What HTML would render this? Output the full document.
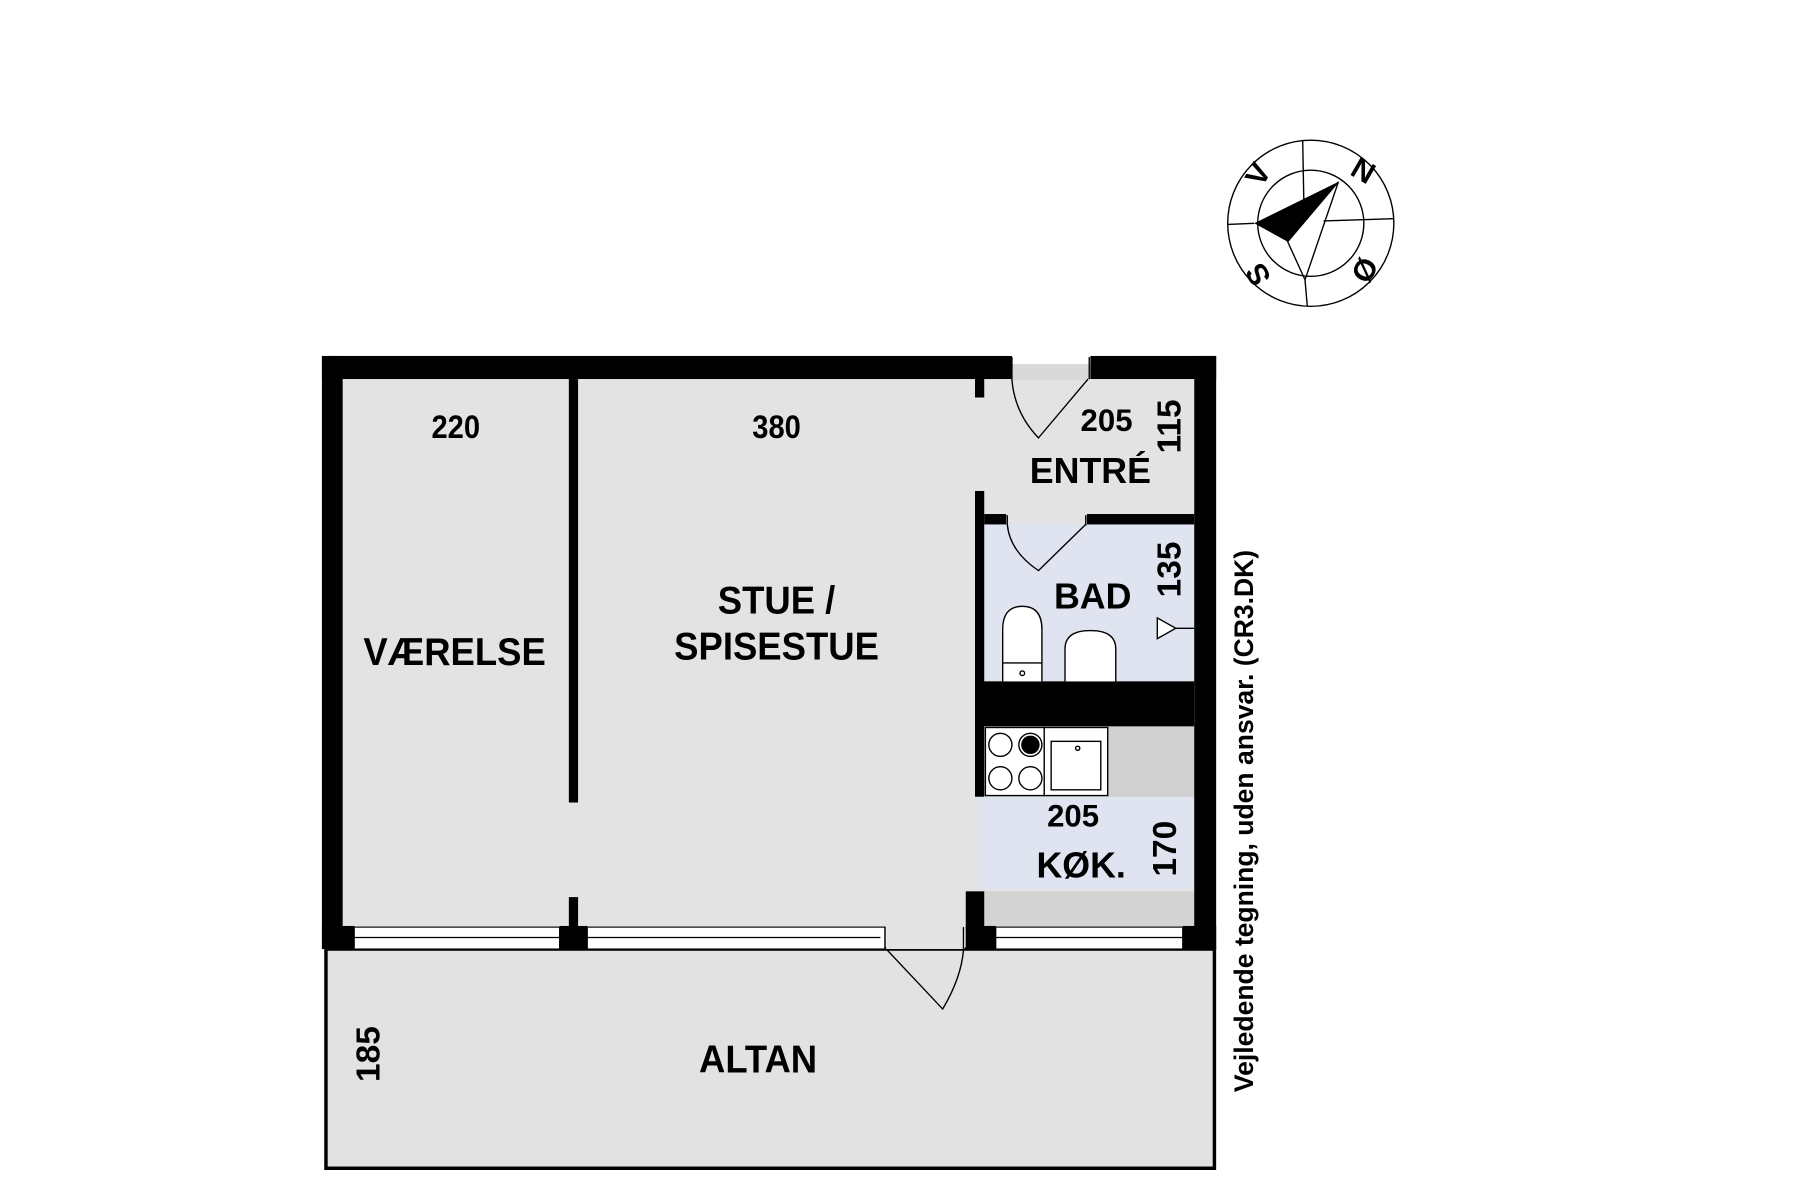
<!DOCTYPE html>
<html><head><meta charset="utf-8"><style>
html,body{margin:0;padding:0;background:#fff;}
svg{display:block;}
text{font-family:"Liberation Sans",sans-serif;font-weight:bold;fill:#000;}
</style></head><body>
<svg width="1800" height="1200" viewBox="0 0 1560 1040" xmlns="http://www.w3.org/2000/svg">
<g transform="translate(-3 -2.5)">
<rect x="300" y="331" width="738" height="477" fill="#e3e3e3"/>
<rect x="880" y="318" width="68" height="14" fill="#d9d9d9"/>
<rect x="856" y="457" width="182" height="136" fill="#dfe4f0"/>
<rect x="850" y="693" width="188" height="80" fill="#dfe4f0"/>
<rect x="856" y="775" width="182" height="30" fill="#d3d3d3"/>
<rect x="963" y="632" width="75" height="61" fill="#d0d0d0"/>
<rect x="285.5" y="825" width="770" height="190" fill="#e2e2e2" stroke="#000" stroke-width="3"/>
<rect x="282" y="311" width="598" height="20" fill="#000"/>
<rect x="948" y="311" width="109" height="20" fill="#000"/>
<rect x="282" y="311" width="18" height="514" fill="#000"/>
<rect x="1038" y="311" width="19" height="514" fill="#000"/>
<rect x="496" y="331" width="8" height="367" fill="#000"/>
<rect x="496" y="780" width="8" height="28" fill="#000"/>
<rect x="848" y="331" width="8" height="16" fill="#000"/>
<rect x="848" y="428" width="8" height="265" fill="#000"/>
<rect x="840" y="775" width="16" height="50" fill="#000"/>
<rect x="856" y="448" width="19" height="9" fill="#000"/>
<rect x="945" y="448" width="93" height="9" fill="#000"/>
<rect x="848" y="593" width="190" height="39" fill="#000"/>
<rect x="282" y="805" width="28" height="20" fill="#000"/>
<rect x="488" y="805" width="24" height="20" fill="#000"/>
<rect x="840" y="805" width="26" height="20" fill="#000"/>
<rect x="1028" y="805" width="29" height="20" fill="#000"/>
<g fill="#fff" stroke="#000" stroke-width="1">
<rect x="310" y="806" width="178" height="19"/><line x1="310" y1="815" x2="488" y2="815"/>
<rect x="512" y="806" width="258" height="19"/><line x1="512" y1="815" x2="766" y2="815"/>
<rect x="866" y="806" width="162" height="19"/><line x1="866" y1="815" x2="1028" y2="815"/>
</g>
<rect x="771" y="806" width="68" height="19" fill="#e3e3e3"/>
<g fill="none" stroke="#000" stroke-width="1.2">
<line x1="770" y1="806" x2="770" y2="826"/>
<line x1="838" y1="806" x2="838" y2="826"/>
<path d="M772 826 L820 877 Q836 850 838 826"/>
<line x1="880" y1="312" x2="880" y2="331"/><line x1="947" y1="312" x2="947" y2="331"/>
<path d="M946 331 L903 382 Q882 360 880 331"/>
<line x1="876" y1="449" x2="876" y2="458"/><line x1="944" y1="449" x2="944" y2="458"/>
<path d="M944 457 L903 497 Q878 480 876 457"/>
<path d="M872 593 L872 548 Q872 528 889 528 Q906 528 906 548 L906 593" fill="#fff"/>
<line x1="872" y1="577" x2="906" y2="577"/>
<circle cx="889" cy="586" r="2"/>
<path d="M926 593 L926 565 Q926 549 948 549 Q970 549 970 565 L970 593" fill="#fff"/>
<path d="M1006 538 L1006 556 L1022 547 Z" fill="#fff"/><line x1="1022" y1="547" x2="1038" y2="547"/>
<rect x="857" y="633" width="51" height="59" fill="#fff"/>
<circle cx="870" cy="648" r="10"/><circle cx="870" cy="677" r="10"/><circle cx="896" cy="677" r="10"/>
<circle cx="896" cy="648" r="10"/>
<rect x="908" y="633" width="55" height="59" fill="#fff"/>
<rect x="914" y="645" width="43" height="42"/>
<circle cx="937" cy="651" r="1.8"/>
</g>
<circle cx="896" cy="648" r="8" fill="#000"/>
<g text-anchor="middle">
<text x="398" y="382" font-size="28" transform="translate(398 0) scale(0.9 1) translate(-398 0)">220</text>
<text x="676" y="382" font-size="28" transform="translate(676 0) scale(0.9 1) translate(-676 0)">380</text>
<text x="397" y="579" font-size="34" transform="translate(397 0) scale(0.93 1) translate(-397 0)">VÆRELSE</text>
<text x="676" y="534" font-size="34" transform="translate(676 0) scale(0.93 1) translate(-676 0)">STUE /</text>
<text x="676" y="574" font-size="34" transform="translate(676 0) scale(0.93 1) translate(-676 0)">SPISESTUE</text>
<text x="962" y="376" font-size="27">205</text>
<text x="948" y="421" font-size="31">ENTRÉ</text>
<text x="950" y="530" font-size="31">BAD</text>
<text x="933" y="719" font-size="27">205</text>
<text x="940" y="763" font-size="31">KØK.</text>
<text x="660" y="932" font-size="34" transform="translate(660 0) scale(0.93 1) translate(-660 0)">ALTAN</text>
<text transform="translate(1026 372) rotate(-90)" font-size="29">115</text>
<text transform="translate(1026 496) rotate(-90)" font-size="29">135</text>
<text transform="translate(1022 738) rotate(-90)" font-size="29">170</text>
<text transform="translate(332 916) rotate(-90)" font-size="29">185</text>
<text transform="translate(1089 714) rotate(-90)" font-size="23">Vejledende tegning, uden ansvar. (CR3.DK)</text>
</g>
<g fill="none" stroke="#000" stroke-width="1.2">
<circle cx="1139" cy="196" r="72"/>
<circle cx="1139" cy="196" r="46"/>
<line x1="1132" y1="124" x2="1133" y2="178"/>
<line x1="1134" y1="245" x2="1136" y2="268"/>
<line x1="1067" y1="197" x2="1090" y2="196"/>
<line x1="1150" y1="194" x2="1211" y2="192"/>
<path d="M1163 160 L1119 212 L1134 245 Z"/>
</g>
<path d="M1163 160 L1090 196 L1119 212 Z" fill="#000"/>
<g font-size="26" text-anchor="middle">
<text transform="translate(1101 158) rotate(-60)">V</text>
<text transform="translate(1180 158) rotate(30)">N</text>
<text transform="translate(1101 236) rotate(-120)">S</text>
<text transform="translate(1178 232) rotate(120)">Ø</text>
</g>
</g>
</svg>
</body></html>
